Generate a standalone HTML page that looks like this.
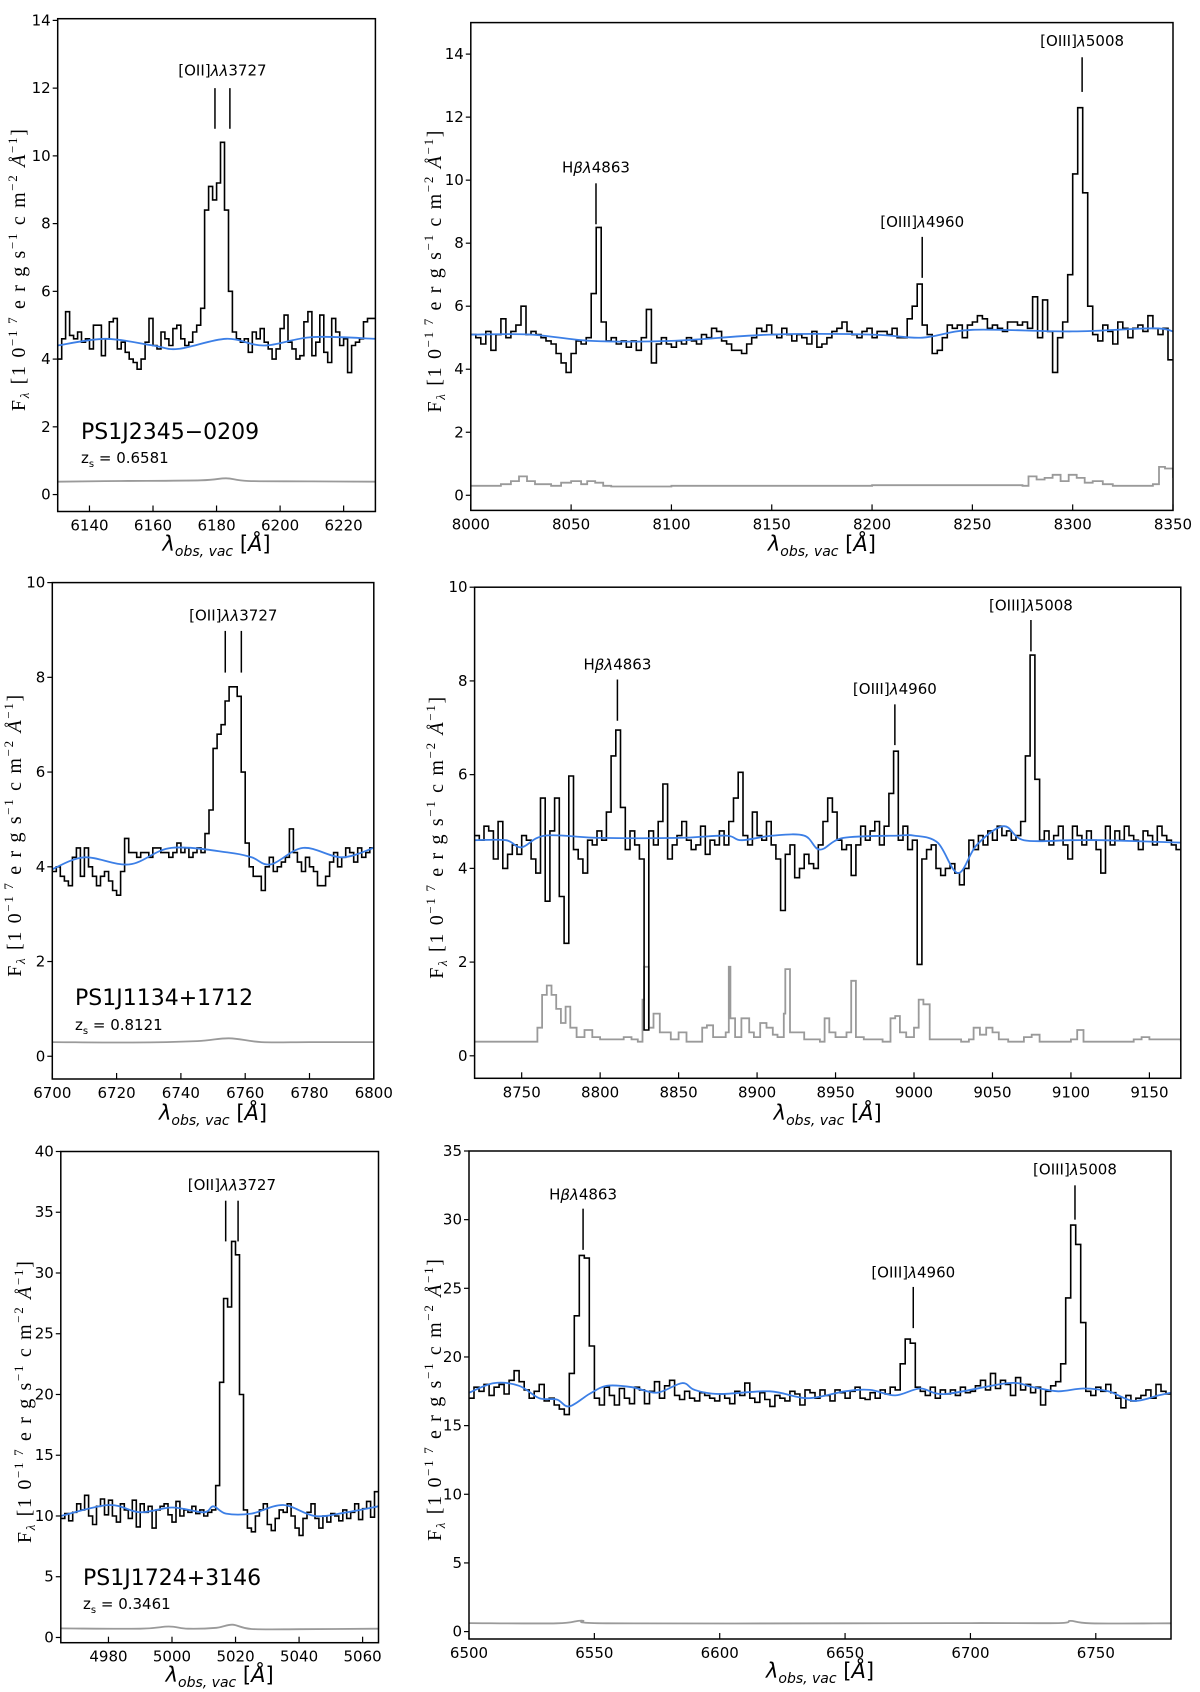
<!DOCTYPE html>
<html><head><meta charset="utf-8"><style>
html,body{margin:0;padding:0;background:#fff;}
svg{display:block;font-family:"DejaVu Sans","Liberation Sans",sans-serif;}
</style></head><body>
<svg id="fig" width="1200" height="1692" viewBox="0 0 1200 1692" xmlns="http://www.w3.org/2000/svg"></svg>
<script>
// ---------- data ----------
const flux1=[4.0,4.6,5.4,4.7,4.6,4.8,4.5,4.6,4.3,5.0,5.0,4.1,4.6,5.1,5.2,4.3,4.5,4.2,4.0,3.9,3.7,4.0,4.5,5.2,4.4,4.3,4.8,4.6,4.4,4.9,5.0,4.6,4.4,4.5,4.8,5.0,5.5,
8.4,9.1,8.7,9.2,10.4,8.4,6.0,
4.8,4.6,4.5,4.6,4.2,4.8,4.6,4.9,4.5,4.3,4.0,4.3,4.9,5.3,4.5,4.3,4.0,4.1,5.1,5.4,4.1,4.5,5.3,4.2,3.9,5.2,4.8,4.4,4.6,3.6,4.4,4.5,4.6,5.1,5.2,5.2];
const modelWave1=[6130,6145,6160,6168,6183,6195,6210,6230];
const modelVal1=[4.4,4.6,4.4,4.3,4.6,4.4,4.65,4.6];
const errWave1=[6130,6150,6175,6183,6190,6210,6230];
const errVal1=[0.38,0.4,0.42,0.48,0.4,0.39,0.38];

const flux2=[5.1,5.0,4.8,5.2,4.6,5.1,5.6,5.0,5.2,5.4,6.0,5.1,5.2,5.1,5.0,4.9,4.8,4.5,4.2,3.9,
4.5,4.9,4.8,5.0,6.4,8.5,5.5,4.9,5.0,4.8,
4.9,4.7,4.9,4.6,5.0,5.9,4.2,4.8,5.0,4.8,4.7,4.9,4.8,5.0,4.9,4.8,5.1,5.0,5.3,5.2,
4.9,4.8,4.6,4.6,4.5,4.8,5.0,5.3,5.2,5.4,5.1,5.0,5.3,5.1,4.9,5.1,5.0,4.8,5.2,4.7,
4.8,5.0,5.2,5.3,5.5,5.2,5.1,5.0,5.2,5.3,5.0,5.2,5.2,5.1,5.3,5.0,5.0,5.6,
6.0,6.7,5.4,5.1,
4.5,4.6,5.0,5.4,5.3,5.4,5.0,5.4,5.5,5.7,5.6,5.3,5.4,5.3,5.2,5.5,5.5,5.4,5.5,5.3,6.3,5.0,6.2,5.2,
3.9,5.0,5.5,7.0,10.2,12.3,9.6,6.0,5.1,
4.9,5.4,5.2,4.8,5.5,5.3,5.0,5.3,5.4,5.2,5.7,5.3,5.1,5.3,4.3];
const modelWave2=[8000,8030,8060,8100,8150,8200,8225,8250,8300,8340,8350];
const modelVal2=[5.1,5.1,4.9,4.9,5.1,5.1,5.0,5.25,5.2,5.3,5.2];
const errWave2=[8000,8015,8020,8024,8028,8032,8040,8045,8050,8055,8058,8062,8066,8070,8100,8150,8200,8275,8278,8282,8286,8290,8294,8298,8302,8306,8310,8315,8320,8340,8343,8346,8350];
const errVal2=[0.3,0.35,0.45,0.6,0.45,0.35,0.3,0.4,0.45,0.35,0.45,0.4,0.3,0.28,0.3,0.3,0.32,0.3,0.6,0.5,0.55,0.65,0.45,0.65,0.55,0.4,0.45,0.35,0.3,0.35,0.9,0.85,0.55];

const flux3=[3.9,4.0,3.8,3.7,3.6,4.2,4.4,3.8,4.4,4.0,3.8,3.6,3.8,3.9,3.7,3.5,3.4,3.9,4.6,4.3,4.3,4.2,4.3,4.3,4.2,4.4,4.4,4.3,4.3,4.2,4.3,4.5,4.3,4.4,4.2,4.3,4.4,4.3,4.7,
5.2,6.5,6.8,7.0,7.5,7.8,7.8,7.6,6.0,4.5,4.0,
3.8,3.8,3.5,4.0,4.2,3.9,4.0,4.1,4.2,4.8,4.3,4.1,3.9,4.2,4.0,3.9,3.6,3.6,3.8,4.1,4.3,4.0,4.2,4.4,4.3,4.1,4.4,4.2,4.3,4.4];
const modelWave3=[6700,6710,6724,6737,6755,6762,6768,6778,6790,6800];
const modelVal3=[3.95,4.2,4.05,4.4,4.3,4.2,4.05,4.4,4.2,4.4];
const errWave3=[6700,6725,6745,6755,6765,6780,6800];
const errVal3=[0.3,0.29,0.32,0.38,0.3,0.3,0.3];

const flux4=[4.7,4.6,4.9,4.8,4.2,5.0,4.0,4.3,4.5,4.3,4.7,4.6,4.2,3.9,5.5,3.3,4.8,5.5,3.4,2.4,
5.97,4.4,4.2,3.9,4.6,4.5,4.8,4.6,5.2,6.4,6.95,5.3,4.4,4.8,4.5,4.2,0.55,4.8,4.5,5.0,
5.8,4.2,4.5,4.7,5.0,4.6,4.4,4.5,4.9,4.3,4.6,4.5,4.8,4.5,5.0,5.5,6.05,4.7,4.5,5.2,
4.7,4.6,5.0,4.5,4.2,3.1,4.3,4.5,3.8,4.0,4.3,4.1,4.0,4.5,5.0,5.5,5.2,4.6,4.4,4.5,
3.85,4.5,4.9,4.6,4.8,5.0,4.5,4.9,5.6,6.5,4.6,4.9,4.4,4.6,1.95,4.2,4.4,4.5,4.0,3.85,
4.0,4.1,3.9,3.65,4.0,4.6,4.4,4.7,4.5,4.8,4.6,4.9,4.7,4.8,4.6,4.7,5.0,6.4,8.55,5.9,
4.6,4.8,4.5,4.7,4.9,4.5,4.2,4.9,4.7,4.5,4.8,4.6,4.4,3.9,4.9,4.5,4.8,4.6,4.9,4.7,
4.6,4.4,4.8,4.7,4.5,4.9,4.7,4.6,4.5,4.4];
const modelWave4=[8720,8740,8750,8765,8800,8850,8880,8890,8910,8930,8940,8955,8990,9000,9015,9028,9040,9057,9070,9100,9120,9170];
const modelVal4=[4.6,4.6,4.45,4.7,4.65,4.65,4.7,4.6,4.7,4.7,4.4,4.65,4.7,4.7,4.55,3.9,4.5,4.9,4.6,4.6,4.6,4.55];
const errWave4=[8720,8755,8760,8763,8766,8769,8772,8775,8778,8781,8785,8790,8795,8800,8815,8820,8824,8827,8828,8831,8834,8838,8845,8850,8855,8860,8865,8868,8872,8880,8882,8883,8886,8890,8895,8898,8902,8906,8910,8913,8917,8918,8921,8930,8940,8943,8946,8950,8957,8960,8963,8968,8980,8985,8988,8991,8995,9000,9003,9006,9010,9030,9035,9038,9042,9046,9050,9054,9060,9070,9075,9080,9090,9100,9104,9108,9120,9140,9145,9150,9170];
const errVal4=[0.3,0.3,0.6,1.3,1.5,1.3,1.0,0.7,1.05,0.6,0.4,0.55,0.4,0.35,0.4,0.35,0.3,1.2,1.9,0.6,0.9,0.5,0.35,0.5,0.3,0.3,0.6,0.65,0.4,0.5,1.9,0.8,0.4,0.8,0.5,0.4,0.7,0.6,0.45,0.4,0.9,1.85,0.5,0.35,0.3,0.8,0.5,0.4,0.5,1.6,0.4,0.35,0.3,0.8,0.85,0.5,0.4,0.6,1.2,1.1,0.35,0.3,0.35,0.6,0.45,0.6,0.5,0.35,0.3,0.4,0.45,0.3,0.3,0.35,0.55,0.3,0.3,0.35,0.4,0.35,0.3];

const flux5=[9.8,10.2,9.6,10.3,11.0,10.5,11.7,10.0,9.3,10.8,11.4,10.1,11.3,10.0,9.5,11.0,10.5,9.8,11.3,9.1,11.0,10.3,10.8,9.0,10.5,10.8,11.0,10.1,9.5,11.2,10.0,10.5,10.3,10.8,10.2,10.5,10.0,10.3,10.5,
12.5,21.0,27.9,27.2,32.6,31.5,20.0,
10.5,9.0,8.7,10.0,10.5,11.0,9.3,8.8,9.8,10.5,10.3,11.0,10.0,9.0,8.4,9.8,10.3,11.0,9.8,9.0,10.0,9.5,10.2,10.0,9.6,10.5,9.8,10.3,11.0,9.7,10.6,11.2,9.9,12.0];
const modelWave5=[4965,4980,4990,5000,5010,5013,5017,5025,5035,5045,5055,5065];
const modelVal5=[10.0,10.9,10.3,10.7,10.3,10.8,10.2,10.2,10.9,10.0,10.3,10.8];
const errWave5=[4965,4990,4999,5005,5014,5019,5025,5040,5065];
const errVal5=[0.75,0.72,0.9,0.72,0.8,1.05,0.7,0.68,0.72];

const flux6=[17.0,17.8,17.5,18.0,17.2,17.8,18.0,17.3,18.3,19.0,18.2,17.6,17.0,17.5,18.0,16.8,17.0,16.5,16.2,15.8,
18.8,23.0,27.4,27.2,20.8,
17.0,16.5,17.8,17.2,16.5,17.7,17.0,16.6,17.8,17.6,16.6,17.5,18.2,17.0,17.9,18.3,17.2,16.9,17.5,17.0,
16.8,17.4,17.2,17.0,16.8,17.3,17.0,16.6,17.5,17.2,18.1,17.0,16.7,17.4,16.9,16.4,17.2,17.0,16.8,17.5,
17.3,16.5,17.6,17.4,17.0,17.6,17.2,16.8,17.6,17.4,17.0,17.5,17.8,17.0,16.9,17.4,17.0,17.6,17.3,17.8,
17.6,19.5,21.3,21.0,17.8,
17.5,17.2,17.8,17.0,17.6,17.3,17.6,17.2,17.8,17.4,17.5,17.9,18.3,17.6,18.8,17.7,18.3,18.0,17.2,18.5,17.6,18.0,17.4,17.8,16.5,17.5,17.9,18.2,
19.5,24.3,29.6,28.2,22.5,
17.5,17.2,17.8,17.5,18.0,17.4,17.0,16.3,17.2,16.8,17.0,17.2,17.6,17.0,18.0,17.5,17.3];
const modelWave6=[6500,6510,6520,6528,6535,6540,6548,6555,6565,6575,6585,6590,6600,6620,6635,6650,6660,6670,6680,6690,6715,6725,6735,6745,6755,6765,6775,6780];
const modelVal6=[17.4,18.1,17.9,17.0,16.9,16.4,17.3,17.9,17.8,17.4,18.1,17.6,17.3,17.5,17.0,17.5,17.6,17.2,17.7,17.3,18.1,17.8,17.5,17.7,17.5,16.8,17.2,17.4];
const errWave6=[6500,6535,6545,6555,6650,6700,6735,6740,6748,6780];
const errVal6=[0.62,0.6,0.8,0.6,0.6,0.62,0.62,0.78,0.6,0.6];

const xTicks1=[6140,6160,6180,6200,6220], yTicks1=[0,2,4,6,8,10,12,14];
const xTicks2=[8000,8050,8100,8150,8200,8250,8300,8350], yTicks2=[0,2,4,6,8,10,12,14];
const xTicks3=[6700,6720,6740,6760,6780,6800], yTicks3=[0,2,4,6,8,10];
const xTicks4=[8750,8800,8850,8900,8950,9000,9050,9100,9150], yTicks4=[0,2,4,6,8,10];
const xTicks5=[4980,5000,5020,5040,5060], yTicks5=[0,5,10,15,20,25,30,35,40];
const xTicks6=[6500,6550,6600,6650,6700,6750], yTicks6=[0,5,10,15,20,25,30,35];

// annotation: [label, lineWaves, yTop, yBottom, labelY]
const lines1=[["oii",[6179.5,6184.2],12.0,10.8,12.5]];
const lines2=[["hb",[8062.4],9.9,8.6,10.38],["o4960",[8225],8.2,6.9,8.65],["o5008",[8304.7],13.9,12.8,14.4]];
const lines3=[["oii",[6753.8,6758.8],8.98,8.1,9.3]];
const lines4=[["hb",[8811],8.03,7.15,8.34],["o4960",[8987.8],7.5,6.63,7.82],["o5008",[9074.5],9.3,8.63,9.6]];
const lines5=[["oii",[5016.9,5020.8],35.95,32.6,37.2]];
const lines6=[["hb",[6545.5],30.8,27.8,31.8],["o4960",[6677.2],25.1,22.1,26.1],["o5008",[6741.7],32.5,30.0,33.6]];

// ---------- layout ----------
const panels=[
 {n:1,l:57.7,t:18.7,r:375.4,b:511.5,x0:6130,x1:6230,y0:-0.5,y1:14.05,flux:flux1,mw:modelWave1,mv:modelVal1,ew:errWave1,ev:errVal1,ew_step:false,xt:xTicks1,yt:yTicks1,ann:lines1,ylx:19,xly:551,name:"PS1J2345\u22120209",z:"0.6581",nx:81,ny:431,zy:458},
 {n:2,l:470.8,t:22.6,r:1173,b:510.4,x0:8000,x1:8350,y0:-0.48,y1:15,flux:flux2,mw:modelWave2,mv:modelVal2,ew:errWave2,ev:errVal2,ew_step:true,xt:xTicks2,yt:yTicks2,ann:lines2,ylx:435,xly:551},
 {n:3,l:52.3,t:582.6,r:373.8,b:1079,x0:6700,x1:6800,y0:-0.48,y1:10,flux:flux3,mw:modelWave3,mv:modelVal3,ew:errWave3,ev:errVal3,ew_step:false,xt:xTicks3,yt:yTicks3,ann:lines3,ylx:15,xly:1120,name:"PS1J1134+1712",z:"0.8121",nx:75,ny:997,zy:1025},
 {n:4,l:474.6,t:587.2,r:1180.8,b:1078.3,x0:8720,x1:9170,y0:-0.48,y1:10,flux:flux4,mw:modelWave4,mv:modelVal4,ew:errWave4,ev:errVal4,ew_step:true,xt:xTicks4,yt:yTicks4,ann:lines4,ylx:437,xly:1120},
 {n:5,l:60.8,t:1151.5,r:378.5,b:1642.7,x0:4965,x1:5065,y0:-0.43,y1:40,flux:flux5,mw:modelWave5,mv:modelVal5,ew:errWave5,ev:errVal5,ew_step:false,xt:xTicks5,yt:yTicks5,ann:lines5,ylx:25,xly:1682,name:"PS1J1724+3146",z:"0.3461",nx:83,ny:1577,zy:1604},
 {n:6,l:469,t:1151,r:1171,b:1639,x0:6500,x1:6780,y0:-0.54,y1:35,flux:flux6,mw:modelWave6,mv:modelVal6,ew:errWave6,ev:errVal6,ew_step:false,xt:xTicks6,yt:yTicks6,ann:lines6,ylx:435,xly:1678}
];
const NS="http://www.w3.org/2000/svg";
const svg=document.getElementById('fig');
function mk(tag,attrs,parent){const e=document.createElementNS(NS,tag);for(const k in attrs)e.setAttribute(k,attrs[k]);(parent||svg).appendChild(e);return e;}
function labelFor(key,g,x,y){
  const t=mk('text',{x:x,y:y,'text-anchor':'middle','dominant-baseline':'middle','font-size':'15'},g);
  
  
  if(key==='oii'){t.innerHTML='[OII]<tspan font-style="italic">λλ</tspan>3727';}
  else if(key==='hb'){t.innerHTML='H<tspan font-style="italic">β</tspan><tspan font-style="italic">λ</tspan>4863';}
  else if(key==='o4960'){t.innerHTML='[OIII]<tspan font-style="italic">λ</tspan>4960';}
  else {t.innerHTML='[OIII]<tspan font-style="italic">λ</tspan>5008';}
}
function smoothPath(pts){
  let d='M'+pts[0][0].toFixed(1)+','+pts[0][1].toFixed(1);
  for(let i=0;i<pts.length-1;i++){
    const p0=pts[i>0?i-1:i],p1=pts[i],p2=pts[i+1],p3=pts[i+2<pts.length?i+2:i+1];
    const c1=[p1[0]+(p2[0]-p0[0])/6,p1[1]+(p2[1]-p0[1])/6];
    const c2=[p2[0]-(p3[0]-p1[0])/6,p2[1]-(p3[1]-p1[1])/6];
    d+=' C'+c1[0].toFixed(1)+','+c1[1].toFixed(1)+' '+c2[0].toFixed(1)+','+c2[1].toFixed(1)+' '+p2[0].toFixed(1)+','+p2[1].toFixed(1);
  }
  return d;
}
panels.forEach(p=>{
  const sx=v=>p.l+(v-p.x0)/(p.x1-p.x0)*(p.r-p.l);
  const sy=v=>p.b-(v-p.y0)/(p.y1-p.y0)*(p.b-p.t);
  const g=mk('g',{});
  
  
  const cp=mk('clipPath',{id:'clip'+p.n},g);
  mk('rect',{x:p.l,y:p.t,width:p.r-p.l,height:p.b-p.t},cp);
  const plot=mk('g',{'clip-path':'url(#clip'+p.n+')'},g);
  let d='';
  if(p.ew_step){
    for(let i=0;i<p.ew.length;i++){
      const x=sx(p.ew[i]),y=sy(p.ev[i]);
      if(i===0)d+='M'+x.toFixed(1)+','+y.toFixed(1);
      else d+=' H'+x.toFixed(1)+' V'+y.toFixed(1);
    }
  } else {
    d=smoothPath(p.ew.map((w,i)=>[sx(w),sy(p.ev[i])]));
  }
  const ep=mk('path',{d:d,fill:'none',stroke:'#9a9a9a','stroke-width':'1.8'},plot);
  
  
  const n=p.flux.length,step=(p.x1-p.x0)/n;
  let fd='';
  for(let i=0;i<n;i++){
    const xa=sx(p.x0+i*step),xb=sx(p.x0+(i+1)*step),y=sy(p.flux[i]);
    if(i===0)fd+='M'+xa.toFixed(1)+','+y.toFixed(1);
    else fd+=' V'+y.toFixed(1);
    fd+=' H'+xb.toFixed(1);
  }
  const fp=mk('path',{d:fd,fill:'none',stroke:'#000','stroke-width':'1.6','stroke-linejoin':'miter'},plot);
  
  
  const mp=mk('path',{d:smoothPath(p.mw.map((w,i)=>[sx(w),sy(p.mv[i])])),fill:'none',stroke:'#3c7fe6','stroke-width':'1.8'},plot);
  
  
  const fr=mk('rect',{x:p.l,y:p.t,width:p.r-p.l,height:p.b-p.t,fill:'none',stroke:'#000','stroke-width':'1.5'},g);
  
  
  p.xt.forEach(v=>{
    const x=sx(v);
    mk('line',{x1:x,x2:x,y1:p.b,y2:p.b-6,stroke:'#000','stroke-width':'1.2'},g);
    const t=mk('text',{x:x,y:p.b+19,'text-anchor':'middle','font-size':'15'},g);
    
    
    t.textContent=v;
  });
  p.yt.forEach(v=>{
    const y=sy(v);
    mk('line',{x1:p.l,x2:p.l-5,y1:y,y2:y,stroke:'#000','stroke-width':'1.2'},g);
    const t=mk('text',{x:p.l-7,y:y+5,'text-anchor':'end','font-size':'15'},g);
    
    
    t.textContent=v;
  });
  p.ann.forEach(a=>{
    a[1].forEach(w=>{
      const ln=mk('line',{x1:sx(w),x2:sx(w),y1:sy(a[2]),y2:sy(a[3]),stroke:'#000','stroke-width':'1.5'},g);
      
      
    });
    const cx=a[1].reduce((s,w)=>s+w,0)/a[1].length;
    labelFor(a[0],g,sx(cx),sy(a[4]));
  });
  const xl=mk('text',{x:(p.l+p.r)/2,y:p.xly,'text-anchor':'middle','font-size':'21'},g);
  
  
  xl.innerHTML='<tspan font-style="italic">λ</tspan><tspan font-style="italic" font-size="14" dy="5">obs, vac</tspan><tspan dy="-5"> [</tspan><tspan font-style="italic">Å</tspan>]';
  const cy=(p.t+p.b)/2+5;
  const yl=mk('text',{x:0,y:0,transform:'translate('+(p.ylx+6)+','+cy+') rotate(-90)','text-anchor':'middle','font-size':'20','font-family':'Liberation Serif, DejaVu Serif, serif',textLength:'282',lengthAdjust:'spacing'},g);
  
  
  yl.innerHTML='F<tspan font-size="13" dy="4" font-style="italic">λ</tspan><tspan dy="-4"> [1 0</tspan><tspan font-size="13" dy="-8">−1 7</tspan><tspan dy="8"> e r g  s</tspan><tspan font-size="13" dy="-8">−1</tspan><tspan dy="8"> c m</tspan><tspan font-size="13" dy="-8">−2</tspan><tspan dy="8" font-style="italic"> Å</tspan><tspan font-size="13" dy="-8">−1</tspan><tspan dy="8">]</tspan>';
  if(p.name){
    const nt=mk('text',{x:p.nx,y:p.ny+8,'font-size':'22'},g);
    
    
    nt.textContent=p.name;
    const zt=mk('text',{x:p.nx,y:p.zy+5,'font-size':'15'},g);
    
    
    zt.innerHTML='z<tspan font-size="10" dy="4">s</tspan><tspan dy="-4"> = '+p.z+'</tspan>';
  }
});
</script>
</body></html>
